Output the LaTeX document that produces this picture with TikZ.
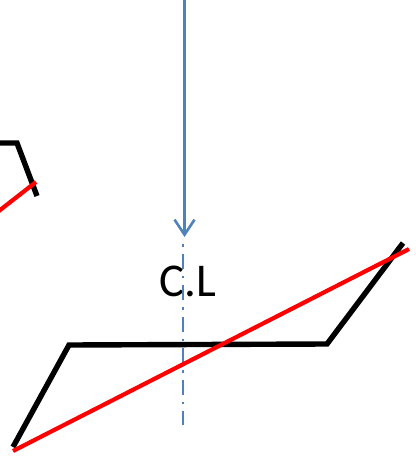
\documentclass[tikz,border=0pt]{standalone}
\usepackage{fontspec}
\setmainfont{Carlito}
\usetikzlibrary{arrows.meta}
\definecolor{cblue}{RGB}{79,129,189}
\tikzset{
  blackline/.style={draw=black,line width=5.4pt,line join=miter},
  redline/.style={draw=red,line width=4.2pt},
  axisline/.style={draw=cblue,line width=2.2pt,dash pattern=on 2.5pt off 7pt on 15pt off 7pt},
  arrowline/.style={draw=cblue,line width=2.6pt,-{Straight Barb[length=15pt,width=20pt,line width=2.6pt]}},
  cltext/.style={font=\fontsize{47}{47}\selectfont,text=black,inner sep=0pt}
}
\begin{document}
\begin{tikzpicture}[x=1pt,y=-1pt]
\useasboundingbox (0,0) rectangle (415,457);
\coordinate (a1) at (13,447);
\coordinate (a2) at (69,345);
\coordinate (a3) at (327,344);
\coordinate (a4) at (403,243);
\coordinate (r1) at (13,451);
\coordinate (r2) at (409,249);
\coordinate (s1) at (-5,143);
\coordinate (s2) at (17,143);
\coordinate (s3) at (37,196);
\coordinate (t1) at (-5,214);
\coordinate (t2) at (36,182);
\coordinate (top) at (184.5,-2);
\coordinate (tip) at (184.5,237);
\coordinate (c1) at (183,244);
\coordinate (c2) at (183,425);
\node[cltext] (cl) at (188,281) {C.L};
\draw[blackline] (a1) -- (a2) -- (a3) -- (a4);
\draw[blackline] (s1) -- (s2) -- (s3);
\draw[arrowline] (top) -- (tip);
\draw[axisline] (c1) -- (c2);
\draw[redline] (r1) -- (r2);
\draw[redline] (t1) -- (t2);
\end{tikzpicture}
\end{document}
